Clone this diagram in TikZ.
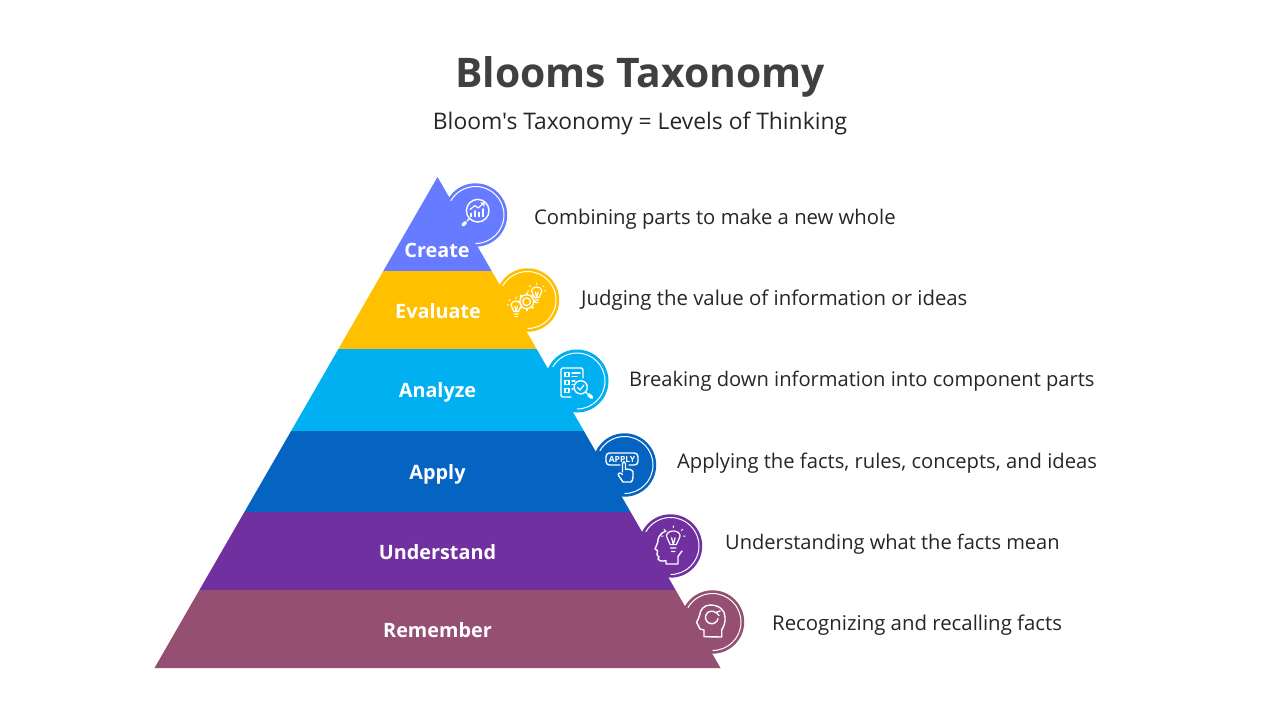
\documentclass[tikz,border=0pt]{standalone}
\usepackage{fontspec}
\setmainfont{Open Sans}
\newfontfamily\plainf{Open Sans}
\definecolor{cCreate}{HTML}{667BFF}
\definecolor{cEval}{HTML}{FFC000}
\definecolor{cAnalyze}{HTML}{00B0F0}
\definecolor{cApply}{HTML}{0563C1}
\definecolor{cUnder}{HTML}{7030A0}
\definecolor{cRemember}{HTML}{954F72}
\tikzset{
 band/.style={fill=#1,draw=none},
 disc/.style={fill=#1,draw=none},
 ring/.style={draw=white,line width=1pt},
 ic/.style={draw=white,line width=1.4pt,line join=round,line cap=round},
 lvl/.style={font=\fontsize{19.8}{22}\selectfont\bfseries,text=white,inner sep=0pt,anchor=center},
 desc/.style={font=\fontsize{#1}{24}\selectfont,text=black!85,inner sep=0pt,anchor=west},
}
\newcommand{\bulb}[3]{% x y scale
 \begin{scope}[shift={(#1,#2)},scale=#3]
 \draw[ic,line width=1.2pt] (-1.8,3) .. controls (-2,1) and (-4,0) .. (-4,-2) .. controls (-4,-6) and (4,-6) .. (4,-2) .. controls (4,0) and (2,1) .. (1.8,3) -- cycle;
 \draw[ic,line width=1.2pt] (-1.6,5) -- (1.6,5) (-1,7) -- (1,7) (-1,-1) -- (0,3) (1,-1)--(0,3);
 \draw[ic,line width=1pt] (0,-8)--(0,-7) (-5.5,-6)--(-4.8,-5.3) (5.5,-6)--(4.8,-5.3) (-7,-2)--(-6,-2) (7,-2)--(6,-2);
 \end{scope}}
\begin{document}
\begin{tikzpicture}[x=1pt,y=-1pt]
\useasboundingbox (0,0) rectangle (1280,720);
\fill[white] (0,0) rectangle (1280,720);
% discs
\fill[disc=cCreate] (475.5,215) circle (31.7);
\fill[disc=cEval] (527.5,300) circle (31.7);
\fill[disc=cAnalyze] (577,381) circle (31.5);
\fill[disc=cApply] (624.5,465) circle (31.7);
\fill[disc=cUnder] (670.5,546) circle (31.7);
\fill[disc=cRemember] (712.5,622) circle (31.7);
% bands
\fill[band=cCreate] (437.5,177) -- (491.7,271) -- (383.3,271) -- cycle;
\fill[band=cEval] (491.7,271) -- (536.6,349) -- (338.4,349) -- (383.3,271) -- cycle;
\fill[band=cAnalyze] (536.6,349) -- (583.9,431) -- (291.1,431) -- (338.4,349) -- cycle;
\fill[band=cApply] (583.9,431) -- (630.6,512) -- (244.4,512) -- (291.1,431) -- cycle;
\fill[band=cUnder] (630.6,512) -- (675.6,590) -- (199.4,590) -- (244.4,512) -- cycle;
\fill[band=cRemember] (675.6,590) -- (720.5,668) -- (154.5,668) -- (199.4,590) -- cycle;
% rings: y axis points down, so the angles run from the foot clockwise on screen
\draw[ring] (475.5,215) ++(90:28.5) arc[start angle=90,end angle=-150,radius=28.5];
\draw[ring] (527.5,300) ++(90:28.5) arc[start angle=90,end angle=-150,radius=28.5];
\draw[ring] (577,381) ++(90:28) arc[start angle=90,end angle=-150,radius=28];
\draw[ring] (624.5,465) ++(90:28.5) arc[start angle=90,end angle=-150,radius=28.5];
\draw[ring] (670.5,546) ++(90:28.5) arc[start angle=90,end angle=-150,radius=28.5];
\draw[ring] (712.5,622) ++(90:28.5) arc[start angle=90,end angle=-150,radius=28.5];
% icon: create
\draw[ic] (477.7,210.7) circle (11.3);
\draw[ic] (469.5,218.5) -- (467,221);
\draw[ic,line width=3.2pt] (465.5,222.5) -- (463,225);
\draw[ic,line width=1.6pt] (471,216.5) -- (471,213.5) (475,216.5)--(475,211) (479,216.5)--(479,212.5) (483,216.5)--(483,209);
\draw[ic,line width=1.2pt] (470,209.5) -- (475,205.5) -- (478,208) -- (484,203) (481,203)--(484,203)--(484,206);
% icon: evaluate
\draw[ic,line width=1.2pt] (526.7,301.7) circle (3.8);
\foreach \a in {0,45,...,315}{\draw[ic,line width=2.2pt] (526.7,301.7) ++(\a:7) -- ++(\a:1.6);}
\draw[ic,line width=1.2pt] (526.7,301.7) circle (7);
\bulb{536.7}{293.5}{1.3}
\bulb{516.2}{307.5}{1.3}
% icon: analyze
\draw[ic] (571,397) -- (563,397) .. controls (561.5,397) and (561,396.5) .. (561,395) -- (561,370) .. controls (561,368.7) and (561.5,368) .. (563,368) -- (581,368) .. controls (582,368) and (583,368.7) .. (583,370) -- (583,378);
\draw[ic,line width=1.2pt] (565,372.5) rectangle (569,376.5) (565,380.5) rectangle (569,384.5) (565,388.5) rectangle (569,392.5);
\draw[ic,line width=1.2pt] (572,373) -- (580,373) (572,376.5) -- (577,376.5) (572,381) -- (575,381) (572,384.5) -- (573.5,384.5) (572,389)--(573,389);
\draw[ic] (580.7,387.3) circle (6.6);
\draw[ic,line width=1.2pt] (577.5,387.5) -- (580,390) -- (584,385);
\draw[ic] (585.6,392) -- (587,393.5);
\draw[ic,line width=3.4pt] (588.5,394.5) -- (591.7,397.5);
% icon: apply
\draw[ic,rounded corners=1.5pt] (620,465) -- (608,465) -- (606,463) -- (606,455) -- (608,453) -- (636,453) -- (638,455) -- (638,463) -- (636,465) -- (629,465);
\node[inner sep=0pt,font=\fontsize{8.5}{9}\selectfont\bfseries,text=white] (applyword) at (622,459.2) {APPLY};
\draw[ic] (622.5,472) -- (622.5,463.5) .. controls (622.5,461) and (625.5,461) .. (625.5,463.5) -- (625.5,469.5) .. controls (627,468.6) and (632,469.5) .. (633,471.5) -- (633,477) .. controls (633,480) and (632,481) .. (631,482) -- (623,482) -- (618.5,475.5) .. controls (617.5,473) and (620,472) .. (622.5,474.5);
% icon: understand
\draw[ic] (666,531) .. controls (660,533) and (657.5,538) .. (657.8,542) .. controls (657.5,544) and (655.5,547) .. (655,549) -- (657.5,550.5) -- (657,555) -- (659,557) -- (658,559) .. controls (660,562) and (664,561) .. (666,560.5) -- (666,564) -- (678,564) -- (678,556.5) .. controls (679,554) and (681,553) .. (682,551);
\bulb{673.3}{539.5}{1.7}
% icon: remember
\draw[ic] (710,605) .. controls (704,605) and (700,610) .. (699.7,615) .. controls (699.5,618) and (696.7,621) .. (696.7,622.5) -- (700,629) -- (704,630) -- (704,636.7) -- (721.7,637) -- (721.7,630) .. controls (724,626) and (725.5,622) .. (725,617) .. controls (725,610) and (719,605) .. (710,605) -- cycle;
\draw[ic] (718,618.5) arc[start angle=10,end angle=310,radius=6.3];
\draw[ic] (719,615.5) -- (716,612.5) -- (720,611) ;
% title
\node[inner sep=0pt,font=\fontsize{40.8}{48}\selectfont\bfseries,text=black!75] (title) at (640,76.5) {Blooms Taxonomy};
\node[inner sep=0pt,font=\plainf\fontsize{22.85}{28}\selectfont,text=black!85] (subtitle) at (640,123.5) {Bloom's Taxonomy = Levels of Thinking};
% labels
\node[lvl] (lCreate) at (437,250) {Create};
\node[lvl] (lEval) at (438,311) {Evaluate};
\node[lvl] (lAnalyze) at (437.5,392.5) {Analyze};
\node[lvl] (lApply) at (437.5,474.5) {Apply};
\node[lvl] (lUnder) at (437.5,552) {Understand};
\node[lvl] (lRemember) at (437.5,630) {Remember};
% descriptions
\node[desc=20.27] (dCreate) at (534,219.5) {Combining parts to make a new whole};
\node[desc=20.36] (dEval) at (581,300.5) {Judging the value of information or ideas};
\node[desc=20.14] (dAnalyze) at (629,381.5) {Breaking down information into component parts};
\node[desc=20.2] (dApply) at (677,463.5) {Applying the facts, rules, concepts, and ideas};
\node[desc=20.05] (dUnder) at (725,544.5) {Understanding what the facts mean};
\node[desc=20.38] (dRemember) at (772,625.5) {Recognizing and recalling facts};
\end{tikzpicture}
\end{document}
